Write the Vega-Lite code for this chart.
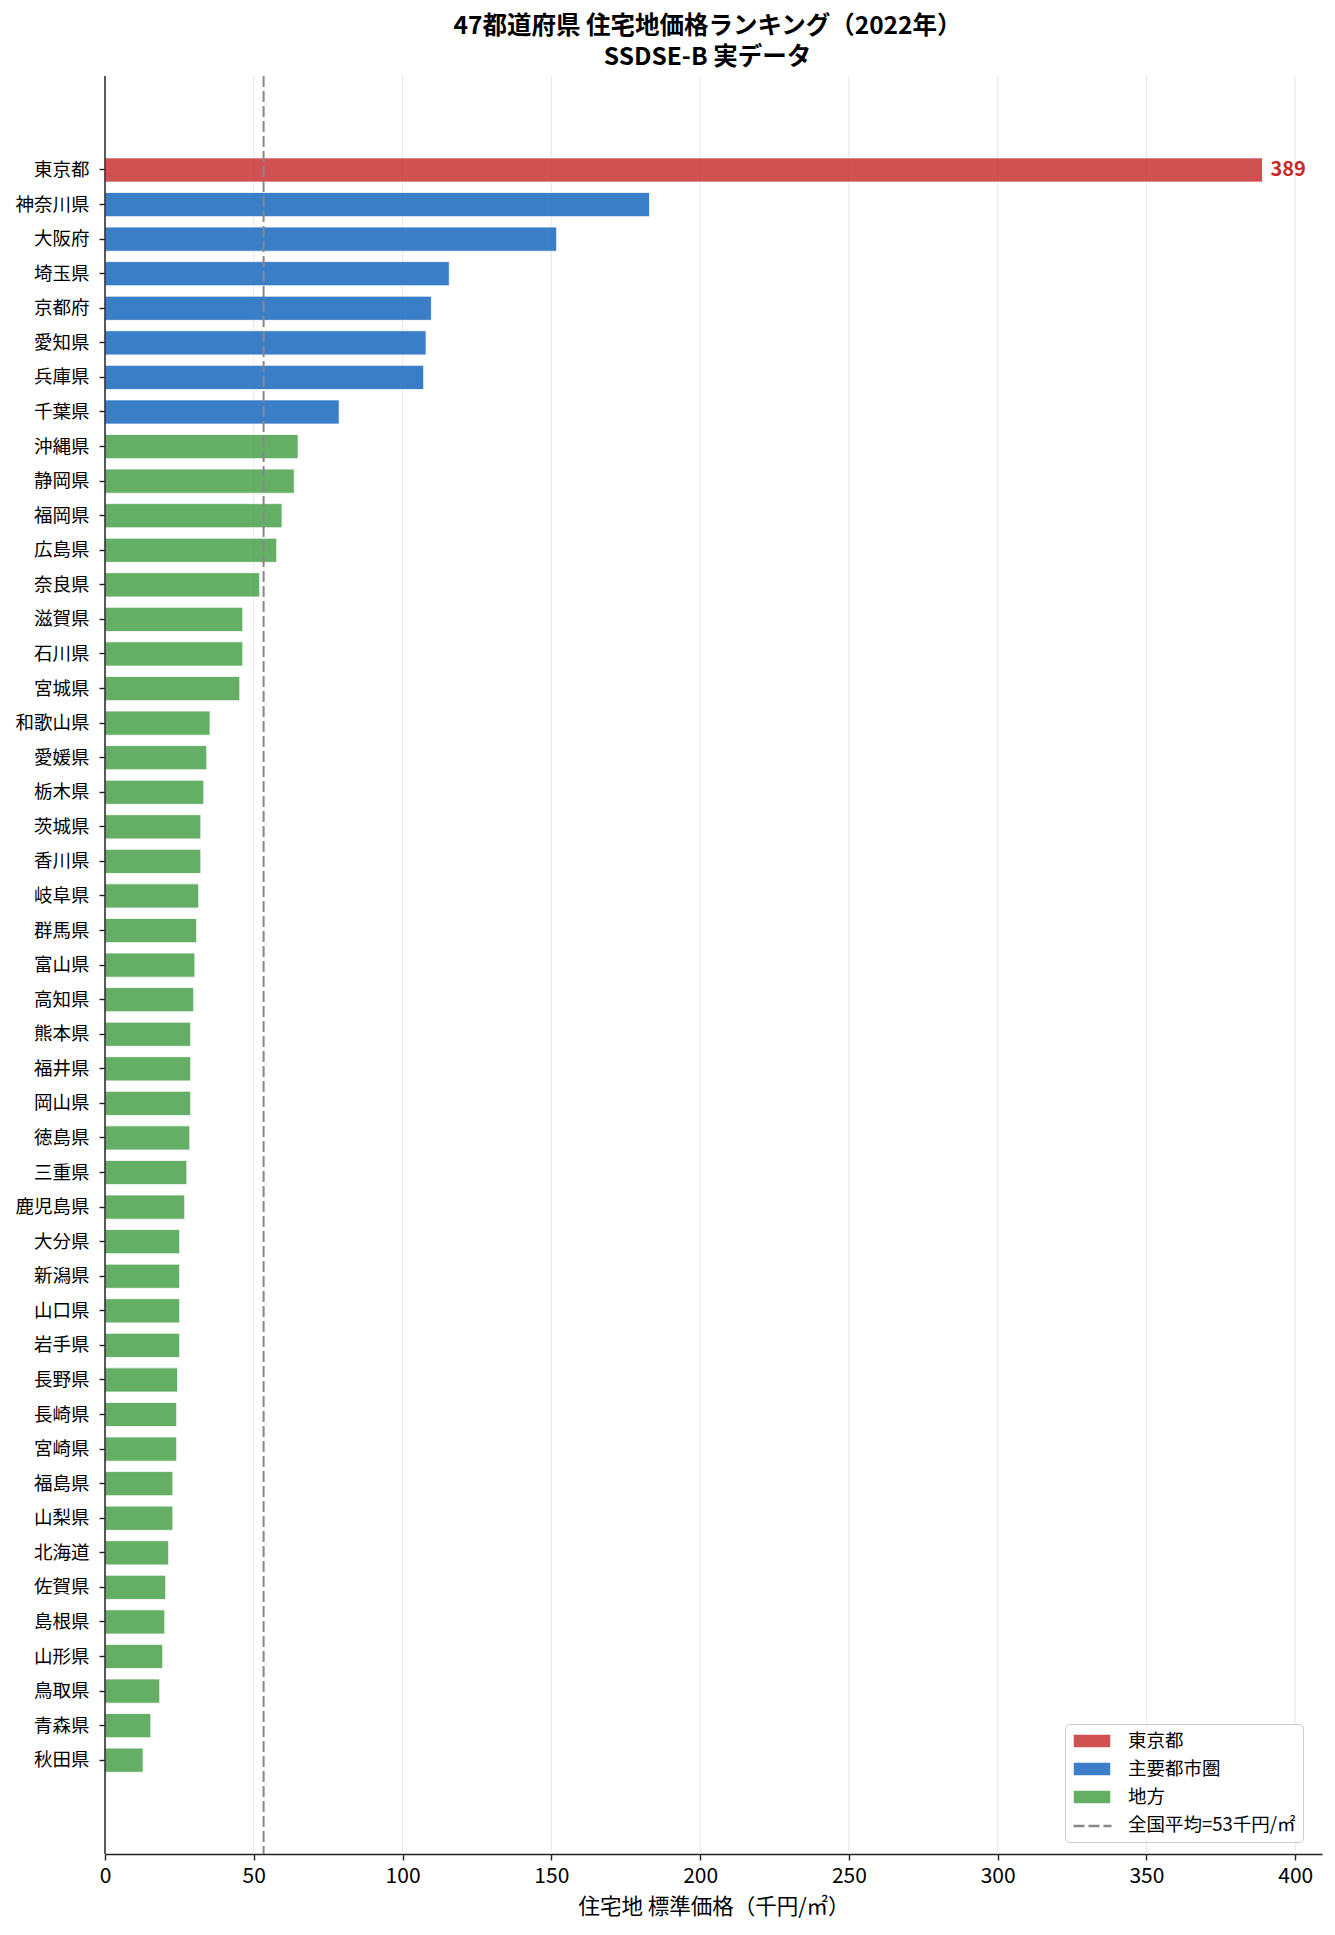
{
  "$schema": "https://vega.github.io/schema/vega-lite/v6.json",
  "width": 1217,
  "height": 1778,
  "autosize": {"type": "none"},
  "padding": {"left": 105, "top": 76, "right": 13, "bottom": 81},
  "background": "white",
  "title": {
    "text": ["47都道府県 住宅地価格ランキング（2022年）", "SSDSE-B 実データ"],
    "font": "Noto Sans CJK JP",
    "fontSize": 24.5,
    "fontWeight": "bold",
    "color": "black",
    "anchor": "middle",
    "lineHeight": 31,
    "offset": 5,
    "dx": -6
  },
  "config": {
    "view": {"stroke": null},
    "font": "Noto Sans CJK JP"
  },
  "datasets": {
    "prefs": [
      {"pref": "東京都", "value": 389, "region": "東京都"},
      {"pref": "神奈川県", "value": 183.0, "region": "主要都市圏"},
      {"pref": "大阪府", "value": 151.8, "region": "主要都市圏"},
      {"pref": "埼玉県", "value": 115.7, "region": "主要都市圏"},
      {"pref": "京都府", "value": 109.7, "region": "主要都市圏"},
      {"pref": "愛知県", "value": 107.9, "region": "主要都市圏"},
      {"pref": "兵庫県", "value": 107.1, "region": "主要都市圏"},
      {"pref": "千葉県", "value": 78.7, "region": "主要都市圏"},
      {"pref": "沖縄県", "value": 64.9, "region": "地方"},
      {"pref": "静岡県", "value": 63.6, "region": "地方"},
      {"pref": "福岡県", "value": 59.5, "region": "地方"},
      {"pref": "広島県", "value": 57.7, "region": "地方"},
      {"pref": "奈良県", "value": 52.0, "region": "地方"},
      {"pref": "滋賀県", "value": 46.3, "region": "地方"},
      {"pref": "石川県", "value": 46.3, "region": "地方"},
      {"pref": "宮城県", "value": 45.3, "region": "地方"},
      {"pref": "和歌山県", "value": 35.3, "region": "地方"},
      {"pref": "愛媛県", "value": 34.2, "region": "地方"},
      {"pref": "栃木県", "value": 33.2, "region": "地方"},
      {"pref": "茨城県", "value": 32.2, "region": "地方"},
      {"pref": "香川県", "value": 32.2, "region": "地方"},
      {"pref": "岐阜県", "value": 31.5, "region": "地方"},
      {"pref": "群馬県", "value": 30.8, "region": "地方"},
      {"pref": "富山県", "value": 30.2, "region": "地方"},
      {"pref": "高知県", "value": 29.8, "region": "地方"},
      {"pref": "熊本県", "value": 28.8, "region": "地方"},
      {"pref": "福井県", "value": 28.8, "region": "地方"},
      {"pref": "岡山県", "value": 28.8, "region": "地方"},
      {"pref": "徳島県", "value": 28.5, "region": "地方"},
      {"pref": "三重県", "value": 27.5, "region": "地方"},
      {"pref": "鹿児島県", "value": 26.8, "region": "地方"},
      {"pref": "大分県", "value": 25.1, "region": "地方"},
      {"pref": "新潟県", "value": 25.1, "region": "地方"},
      {"pref": "山口県", "value": 25.1, "region": "地方"},
      {"pref": "岩手県", "value": 25.1, "region": "地方"},
      {"pref": "長野県", "value": 24.4, "region": "地方"},
      {"pref": "長崎県", "value": 24.1, "region": "地方"},
      {"pref": "宮崎県", "value": 24.1, "region": "地方"},
      {"pref": "福島県", "value": 22.8, "region": "地方"},
      {"pref": "山梨県", "value": 22.8, "region": "地方"},
      {"pref": "北海道", "value": 21.4, "region": "地方"},
      {"pref": "佐賀県", "value": 20.4, "region": "地方"},
      {"pref": "島根県", "value": 20.1, "region": "地方"},
      {"pref": "山形県", "value": 19.4, "region": "地方"},
      {"pref": "鳥取県", "value": 18.4, "region": "地方"},
      {"pref": "青森県", "value": 15.4, "region": "地方"},
      {"pref": "秋田県", "value": 12.8, "region": "地方"}
    ]
  },
  "layer": [
    {
      "data": {"values": [{"g": 50}, {"g": 100}, {"g": 150}, {"g": 200}, {"g": 250}, {"g": 300}, {"g": 350}, {"g": 400}]},
      "mark": {"type": "rule", "color": "#e6e6e6", "strokeWidth": 1},
      "encoding": {
        "x": {"field": "g", "type": "quantitative", "title": "住宅地 標準価格（千円/㎡）"}
      }
    },
    {
      "data": {"name": "prefs"},
      "mark": {"type": "bar", "stroke": "white", "strokeWidth": 0.8, "opacity": 0.85},
      "encoding": {
        "y": {
          "field": "pref",
          "type": "nominal",
          "sort": null,
          "scale": {"range": [76.7, 1701.5], "paddingInner": 0.3, "paddingOuter": 0.15},
          "axis": {
            "title": null,
            "domain": false,
            "labelFontSize": 18.5,
            "labelColor": "black",
            "labelPadding": 10,
            "tickSize": 6,
            "tickWidth": 1.4,
            "tickColor": "#222222",
            "grid": false
          }
        },
        "x": {
          "field": "value",
          "type": "quantitative",
          "scale": {"domain": [0, 409], "nice": false},
          "axis": {
            "title": "住宅地 標準価格（千円/㎡）",
            "values": [0, 50, 100, 150, 200, 250, 300, 350, 400],
            "grid": false,
            "labelFontSize": 21,
            "labelColor": "black",
            "labelPadding": 5,
            "labelFlush": false,
            "tickSize": 6,
            "tickWidth": 1.4,
            "tickColor": "#222222",
            "domainColor": "#222222",
            "domainWidth": 1.5,
            "titleFontSize": 21.5,
            "titleFontWeight": "normal",
            "titleColor": "black",
            "titlePadding": 10
          }
        },
        "color": {
          "field": "region",
          "type": "nominal",
          "scale": {
            "domain": ["東京都", "主要都市圏", "地方", "全国平均=53千円/㎡"],
            "range": ["#c83333", "#1a68bf", "#4aa24b", "transparent"]
          },
          "legend": {
            "title": null,
            "orient": "none",
            "legendX": 960,
            "legendY": 1648,
            "labelFontSize": 18.5,
            "labelColor": "black",
            "labelLimit": 400,
            "symbolSize": 1444,
            "symbolType": "M-1,-0.37H1V0.37H-1Z",
            "clipHeight": 20,
            "rowPadding": 8,
            "labelOffset": 16,
            "padding": 7,
            "strokeColor": "#cccccc",
            "fillColor": "rgba(255,255,255,0.85)",
            "cornerRadius": 4
          }
        }
      }
    },
    {
      "data": {"name": "prefs"},
      "transform": [{"filter": "datum.pref === '東京都'"}],
      "mark": {"type": "text", "align": "left", "baseline": "middle", "dx": 8, "fontWeight": "bold", "fontSize": 20, "color": "#c62828"},
      "encoding": {
        "y": {"field": "pref", "type": "nominal", "sort": null},
        "x": {"field": "value", "type": "quantitative", "title": "住宅地 標準価格（千円/㎡）"},
        "text": {"field": "value", "type": "quantitative"}
      }
    },
    {
      "data": {"values": [{"avg": 53.3, "label": "全国平均=53千円/㎡"}]},
      "mark": {"type": "rule", "color": "#888888", "strokeWidth": 2},
      "encoding": {
        "x": {"field": "avg", "type": "quantitative", "title": "住宅地 標準価格（千円/㎡）"},
        "strokeDash": {
          "field": "label",
          "type": "nominal",
          "scale": {"range": [[11, 4]]},
          "legend": {
            "title": null,
            "orient": "none",
            "legendX": 960,
            "legendY": 1733,
            "labelExpr": "''",
            "symbolType": "stroke",
            "symbolSize": 1444,
            "symbolStrokeColor": "#888888",
            "symbolStrokeWidth": 2.4,
            "clipHeight": 20,
            "padding": 7,
            "zindex": 2
          }
        }
      }
    },
    {
      "data": {"values": [{"edge": 0}]},
      "mark": {"type": "rule", "color": "#222222", "strokeWidth": 1.5},
      "encoding": {
        "x": {"field": "edge", "type": "quantitative", "title": "住宅地 標準価格（千円/㎡）"}
      }
    }
  ]
}
